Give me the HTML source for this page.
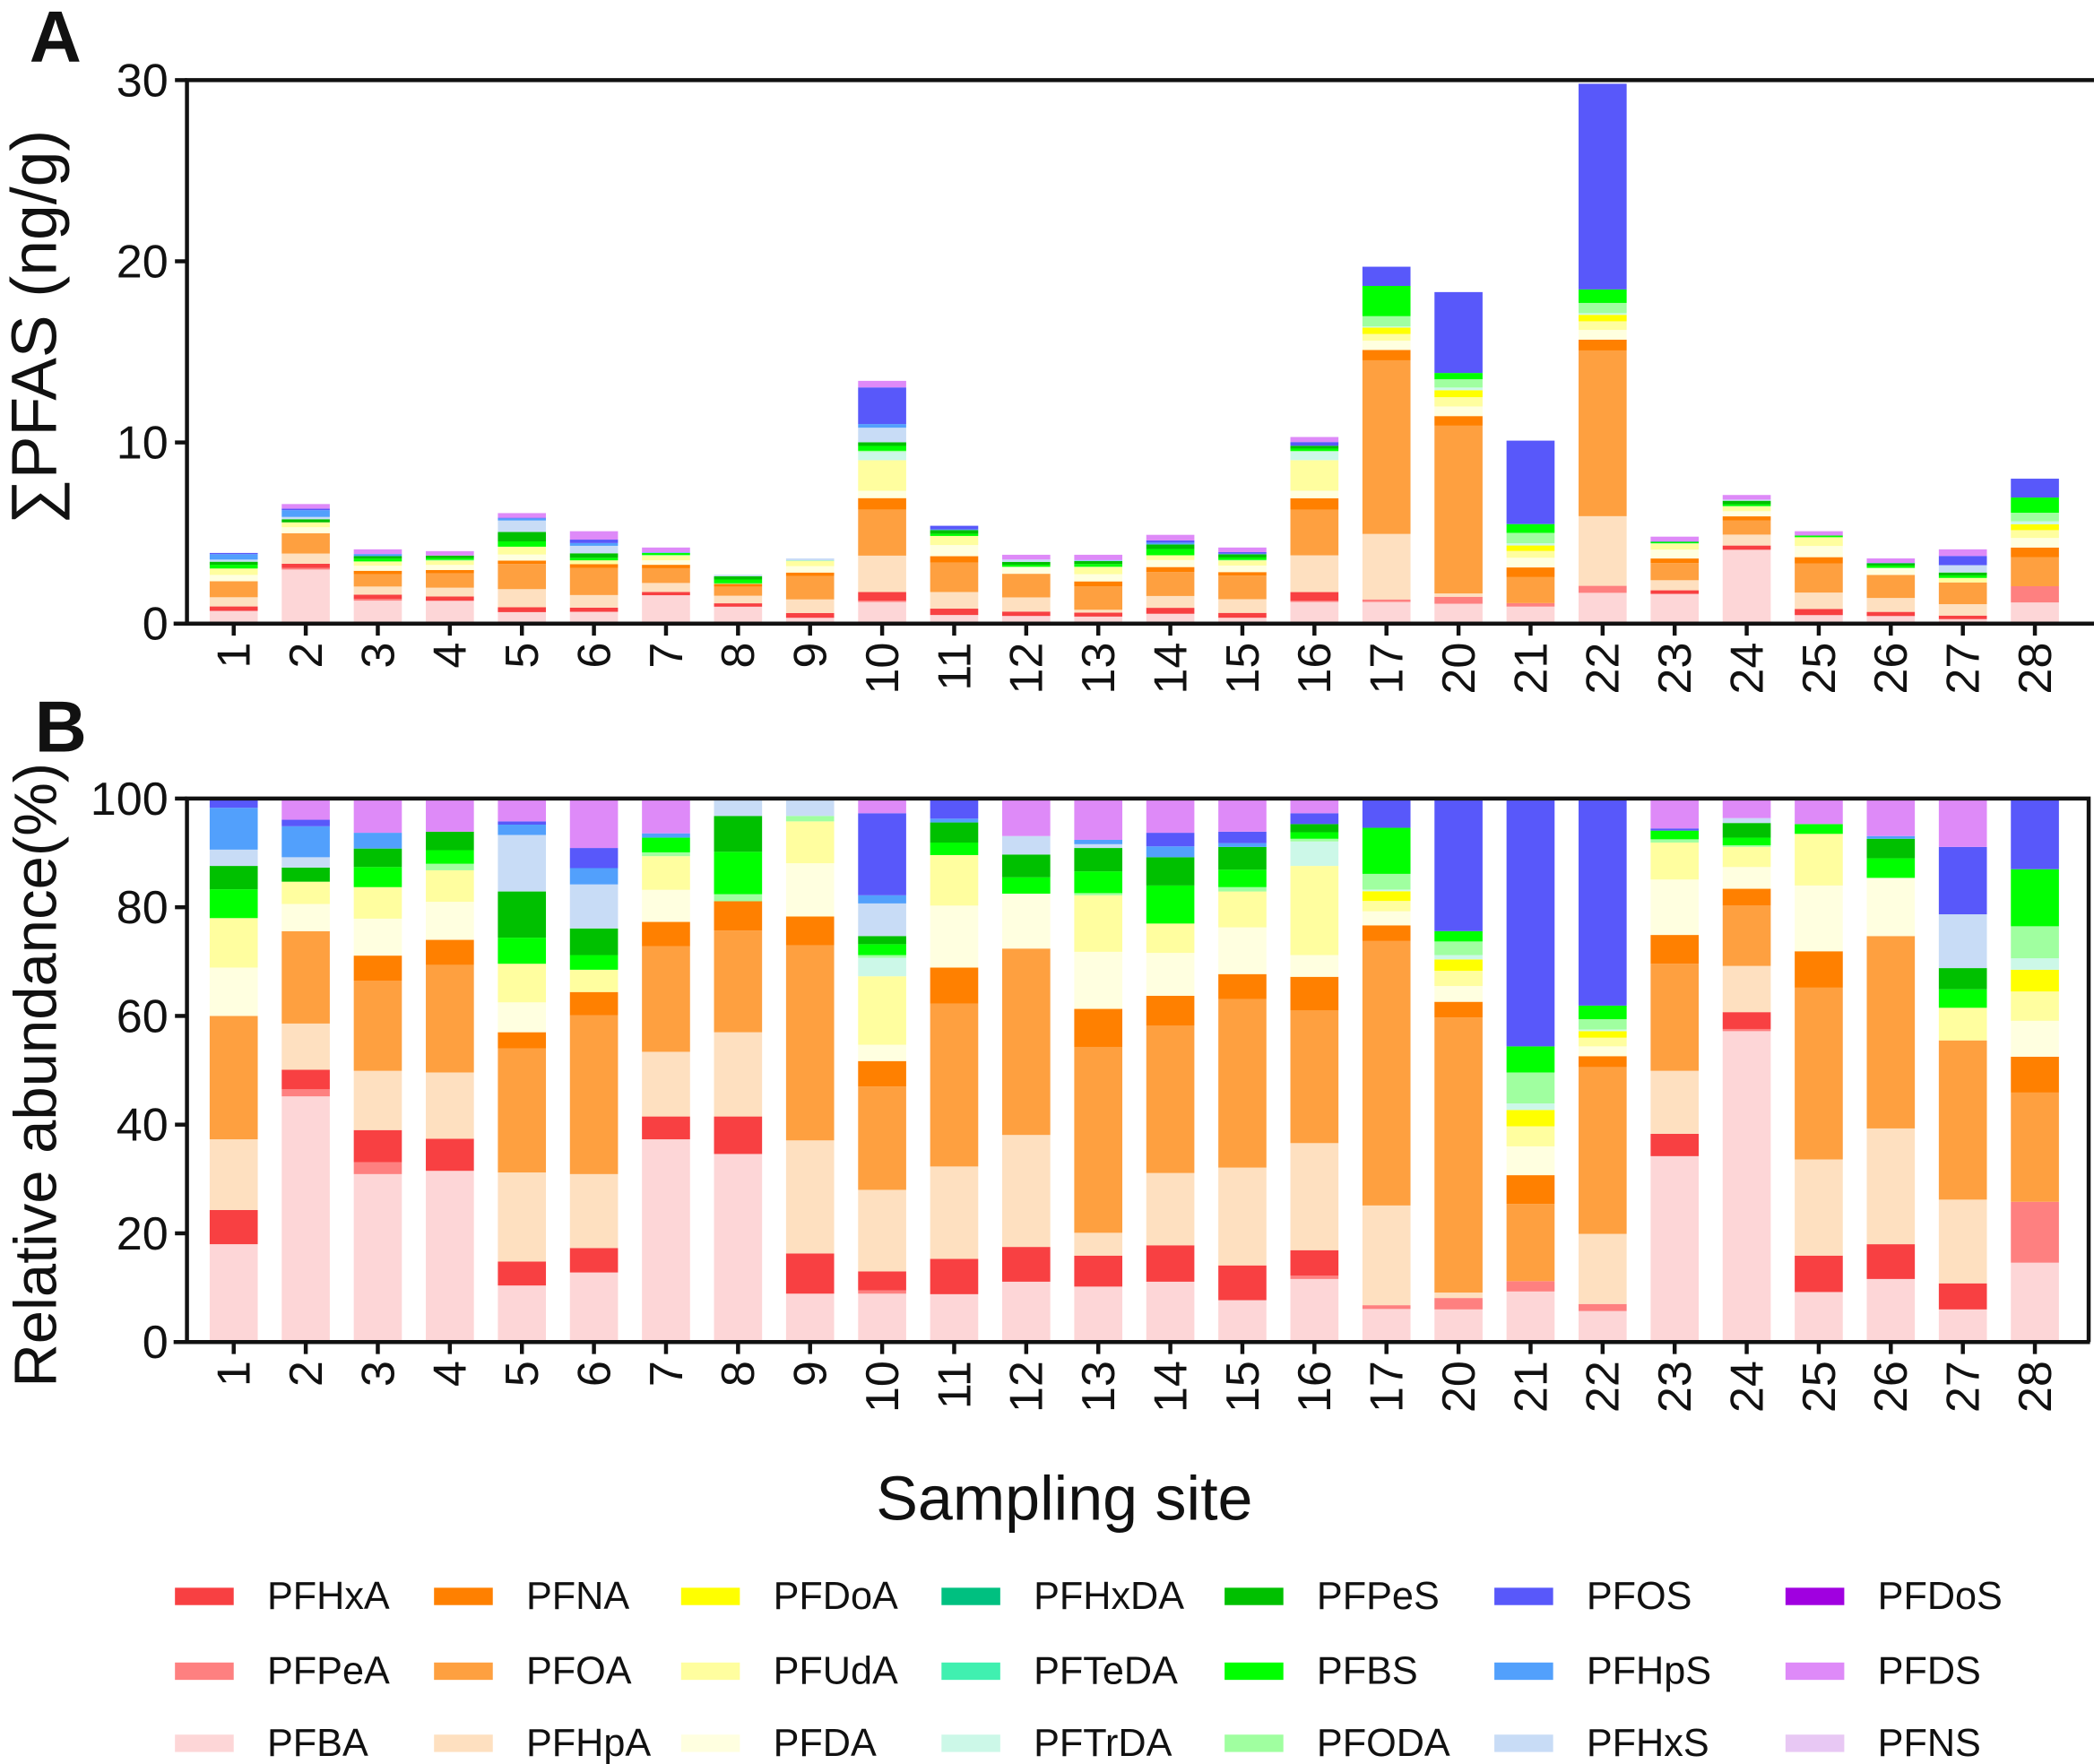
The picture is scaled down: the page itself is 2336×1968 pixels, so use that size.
<!DOCTYPE html>
<html><head><meta charset="utf-8"><style>
html,body{margin:0;padding:0;background:#fff}
svg{display:block}
text{font-family:"Liberation Sans",Arial,sans-serif;fill:#111}
</style></head><body>
<svg id="fig" width="2336" height="1968" viewBox="0 0 1568 1321" xmlns="http://www.w3.org/2000/svg">
<g id="A"></g>
<g id="B"></g>
<g id="L"></g>
</svg>
<script>
const sites = ["1","2","3","4","5","6","7","8","9","10","11","12","13","14","15","16","17","20","21","22","23","24","25","26","27","28"];
const totals = [3.9,6.6,4.1,4.0,6.1,5.1,4.2,2.7,3.6,13.4,5.4,3.8,3.8,4.9,4.2,10.3,19.7,18.3,10.1,29.8,4.8,7.1,5.1,3.6,4.1,8.0];
const seriesNames = ["PFBA","PFPeA","PFHxA","PFHpA","PFOA","PFNA","PFDA","PFUdA","PFDoA","PFTrDA","PFTeDA","PFHxDA","PFODA","PFBS","PFPeS","PFHxS","PFHpS","PFOS","PFNS","PFDS","PFDoS"];
const seriesColors = ["#fdd6d7","#fe8080","#f84042","#fee0c0","#fea040","#ff8000","#ffffe0","#fffe9f","#ffff00","#ccf8e8","#40f0b0","#00c080","#a0ffa0","#00ff00","#00c000","#c8dcf6","#52a0fc","#5858fa","#e8c8f4","#de8af8","#a000e0"];
const PFBA = [18.0,45.2,30.9,31.5,10.4,12.8,37.3,34.6,8.9,8.9,8.8,11.1,10.2,11.1,7.7,11.6,6.1,6.0,9.3,5.7,34.2,57.2,9.2,11.6,6.0,14.6];
const PFPeA = [0,1.3,2.2,0,0,0,0,0,0,0.6,0,0,0,0,0,0.6,0.7,2.1,1.9,1.3,0,0.4,0,0,0,11.2];
const PFHxA = [6.3,3.6,5.9,5.9,4.4,4.5,4.2,6.9,7.4,3.5,6.5,6.4,5.7,6.7,6.4,4.7,0,0,0,0,4.1,3.1,6.7,6.4,4.8,0];
const PFHpA = [13.0,8.5,10.9,12.2,16.4,13.6,11.9,15.5,20.8,15.0,17.0,20.6,4.2,13.3,18.0,19.7,18.4,1.0,0,12.9,11.6,8.5,17.7,21.3,15.4,0];
const PFOA = [22.7,17.0,16.6,19.8,22.8,29.2,19.4,18.7,35.9,19.0,30.0,34.3,34.2,27.1,31.0,24.4,48.8,50.6,14.2,30.7,19.7,11.1,31.6,35.4,29.3,20.1];
const PFNA = [0,0,4.6,4.6,3.0,4.3,4.5,5.4,5.3,4.7,6.6,0,7.0,5.5,4.6,6.2,2.9,2.9,5.3,2.0,5.3,3.1,6.7,0,0,6.6];
const PFDA = [8.9,5.0,6.8,7.0,5.5,0,5.9,0,9.8,3.0,11.4,10.1,10.5,7.9,8.6,4.0,2.6,2.9,5.3,1.8,10.2,4.0,12.1,10.7,0,6.6];
const PFUdA = [9.1,4.1,5.8,5.8,7.1,4.1,6.2,0,7.7,12.6,9.3,0,10.4,5.4,6.6,16.4,1.9,2.8,3.7,1.6,6.8,3.7,9.5,0,6.0,5.4];
const PFDoA = [0,0,0,0,0,0,0,0,0,0,0,0,0,0,0,0,1.8,2.1,3.0,1.2,0,0,0,0,0,4.0];
const PFTrDA = [0,0,0,0,0,0,0,0,0,3.4,0,0,0,0,0,4.5,0.3,0.8,1.2,0.3,0,0,0,0,0,2.1];
const PFTeDA = [0,0,0,0,0,0,0,0,0,0,0,0,0,0,0,0,0,0,0,0,0,0,0,0,0,0];
const PFHxDA = [0,0,0,0,0,0,0,0,0,0,0,0,0,0,0,0,0,0,0,0,0,0,0,0,0,0];
const PFODA = [0,0,0,1.2,0,0,0.7,1.3,1.0,0.5,0,0,0.4,0,0.8,0.5,2.9,2.5,5.7,1.9,0.6,0.3,0,0,0,5.9];
const PFBS = [5.3,0,3.7,2.5,4.8,2.7,2.7,7.8,0,2.0,2.3,3.0,4.0,7.0,3.2,1.2,8.5,1.9,4.8,2.5,1.6,1.4,1.8,3.6,3.4,10.5];
const PFPeS = [4.3,2.6,3.4,3.4,8.5,4.9,0,6.6,0,1.5,3.7,4.2,4.3,5.2,4.2,1.5,0,0,0,0,0,2.7,0,3.6,3.9,0];
const PFHxS = [3.0,1.9,0,0,10.4,8.1,0,3.2,3.2,6.0,0,3.4,0.7,0,0,0,0,0,0,0,0,0.9,0,0,9.9,0];
const PFHpS = [7.7,5.7,2.9,0,1.9,3.0,0.8,0,0,1.5,0.7,0,0.8,2.0,0.7,0,0,0,0,0,0,0,0,0.5,0,0];
const PFOS = [1.7,1.2,0,0,0.6,3.7,0,0,0,15.1,3.7,0,0,2.5,2.1,2.0,5.4,24.4,45.6,38.1,0.4,0,0,0,12.4,13.0];
const PFNS = [0,0,0,0,0,0,0,0,0,0,0,0,0,0,0,0,0,0,0,0,0,0,0,0,0,0];
const PFDS = [0,3.9,6.3,6.1,4.2,9.1,6.4,0,0,2.7,0,6.9,7.6,6.3,6.1,2.7,0,0,0,0,5.5,3.6,4.7,6.9,8.9,0];
const PFDoS = [0,0,0,0,0,0,0,0,0,0,0,0,0,0,0,0,0,0,0,0,0,0,0,0,0,0];
const yTicksA = [0,10,20,30];
const yTicksB = [0,20,40,60,80,100];
const legendOrder = ["PFHxA","PFNA","PFDoA","PFHxDA","PFPeS","PFOS","PFDoS","PFPeA","PFOA","PFUdA","PFTeDA","PFBS","PFHpS","PFDS","PFBA","PFHpA","PFDA","PFTrDA","PFODA","PFHxS","PFNS"];

const seriesData = [PFBA,PFPeA,PFHxA,PFHpA,PFOA,PFNA,PFDA,PFUdA,PFDoA,PFTrDA,PFTeDA,PFHxDA,PFODA,PFBS,PFPeS,PFHxS,PFHpS,PFOS,PFNS,PFDS,PFDoS];
const NS="http://www.w3.org/2000/svg";
function mk(parent,tag,attrs,txt){const e=document.createElementNS(NS,tag);for(const k in attrs)e.setAttribute(k,attrs[k]);if(txt!==undefined)e.textContent=txt;parent.appendChild(e);return e;}
const x0=175, dx=53.95, bw=36;
function xPos(i){return x0+dx*i;}
const yA=v=>467-v*(407/30);
const yB=v=>1005-v*(407/100);
const A=document.getElementById('A'), B=document.getElementById('B'), L=document.getElementById('L');

sites.forEach((s,i)=>{
  let sum=0; seriesData.forEach(a=>sum+=a[i]);
  let acc=0;
  const g=mk(A,'g',{});
  
  
  seriesData.forEach((a,k)=>{
    if(a[i]<=0)return;
    const v0=totals[i]*acc/sum, v1=totals[i]*(acc+a[i])/sum; acc+=a[i];
    const r=mk(g,'rect',{x:xPos(i)-bw/2,y:yA(v1),width:bw,height:yA(v0)-yA(v1),fill:seriesColors[k]});
    
    
  });
});
let ax=mk(A,'path',{d:'M140,60 L1568,60 M140,58.5 L140,468.5 M130,467 L1568,467',stroke:'#111','stroke-width':3,fill:'none'});


yTicksA.forEach(t=>{
  mk(A,'line',{x1:131,x2:140,y1:yA(t),y2:yA(t),stroke:'#111','stroke-width':3});
  const tx=mk(A,'text',{x:126,y:yA(t)+12,'text-anchor':'end','font-size':35},String(t));
  
  
});
sites.forEach((s,i)=>{
  mk(A,'line',{x1:xPos(i),x2:xPos(i),y1:467,y2:476,stroke:'#111','stroke-width':3});
  const tx=mk(A,'text',{transform:`translate(${xPos(i)+12},481) rotate(-90)`,'text-anchor':'end','font-size':35},s);
  
  
});
let t=mk(A,'text',{transform:'translate(42,245) rotate(-90)','text-anchor':'middle','font-size':48},'∑PFAS  (ng/g)');


t=mk(A,'text',{x:22,y:46,'font-size':54,'font-weight':'bold'},'A');



sites.forEach((s,i)=>{
  let sum=0; seriesData.forEach(a=>sum+=a[i]);
  let acc=0;
  const g=mk(B,'g',{});
  
  
  seriesData.forEach((a,k)=>{
    if(a[i]<=0)return;
    const v0=100*acc/sum, v1=100*(acc+a[i])/sum; acc+=a[i];
    const r=mk(g,'rect',{x:xPos(i)-bw/2,y:yB(v1),width:bw,height:yB(v0)-yB(v1),fill:seriesColors[k]});
    
    
  });
});
ax=mk(B,'path',{d:'M140,598 L1564,598 L1564,1005 M140,596.5 L140,1006.5 M130,1005 L1565,1005',stroke:'#111','stroke-width':3,fill:'none'});


yTicksB.forEach(v=>{
  mk(B,'line',{x1:131,x2:140,y1:yB(v),y2:yB(v),stroke:'#111','stroke-width':3});
  const tx=mk(B,'text',{x:126,y:yB(v)+12,'text-anchor':'end','font-size':35},String(v));
  
  
});
sites.forEach((s,i)=>{
  mk(B,'line',{x1:xPos(i),x2:xPos(i),y1:1005,y2:1014,stroke:'#111','stroke-width':3});
  const tx=mk(B,'text',{transform:`translate(${xPos(i)+12},1019) rotate(-90)`,'text-anchor':'end','font-size':35},s);
  
  
});
t=mk(B,'text',{transform:'translate(42,805) rotate(-90)','text-anchor':'middle','font-size':45},'Relative abundance(%)');


t=mk(B,'text',{x:26,y:563,'font-size':54,'font-weight':'bold'},'B');


t=mk(B,'text',{x:797,y:1138,'text-anchor':'middle','font-size':47},'Sampling site');



const colX=[131,325,510,705,917,1119,1337];
const rowY=[1195,1251,1305];
legendOrder.forEach((n,j)=>{
  const r=Math.floor(j/7), c=j%7;
  const k=seriesNames.indexOf(n);
  const g=mk(L,'g',{});
  
  
  mk(g,'rect',{x:colX[c],y:rowY[r]-6,width:44,height:13,fill:seriesColors[k]});
  mk(g,'text',{x:colX[c]+69,y:rowY[r]+10,'font-size':29},n);
});
</script>
</body></html>
